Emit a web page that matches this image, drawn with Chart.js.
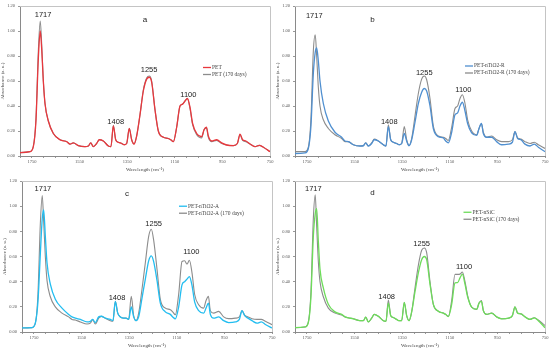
<!DOCTYPE html>
<html>
<head>
<meta charset="utf-8">
<script src="https://cdn.jsdelivr.net/npm/chart.js@4"></script>
<style>
    body { margin: 0; background: #fff; width: 550px; height: 349px; overflow: hidden; position: relative; }
    canvas { position: absolute; }
</style>
</head>
<body>
<canvas id="graficoA" width="275" height="175" style="left:0;top:0"></canvas>
<canvas id="graficoB" width="275" height="175" style="left:275px;top:0"></canvas>
<canvas id="graficoC" width="275" height="176" style="left:2px;top:175px"></canvas>
<canvas id="graficoD" width="275" height="176" style="left:275px;top:175px"></canvas>
<script>
'use strict';

// eixo x (cm-1), comum aos quatro graficos
const numeroOnda = [1800, 1758, 1744, 1733, 1723, 1715, 1709, 1702, 1695, 1681,
    1660, 1632, 1604, 1590, 1576, 1555, 1527, 1513, 1503, 1492,
    1478, 1467, 1450, 1429, 1418, 1408, 1398, 1387, 1373, 1363,
    1352, 1341, 1331, 1321, 1310, 1296, 1282, 1268, 1257, 1247,
    1233, 1219, 1198, 1177, 1167, 1156, 1142, 1128, 1117, 1107,
    1097, 1086, 1075, 1058, 1037, 1027, 1017, 1009, 995, 974,
    953, 932, 904, 887, 876, 865, 851, 834, 813, 795,
    778, 750];

const ticksX = [1750, 1550, 1350, 1150, 950, 750];

// a
const pet = [0.027, 0.035, 0.075, 0.28, 0.78, 1.00, 0.86, 0.60, 0.42, 0.28,
    0.18, 0.13, 0.115, 0.095, 0.105, 0.083, 0.075, 0.08, 0.105, 0.075,
    0.10, 0.13, 0.12, 0.08, 0.075, 0.24, 0.13, 0.11, 0.10, 0.09,
    0.10, 0.22, 0.13, 0.096, 0.16, 0.33, 0.52, 0.615, 0.63, 0.59,
    0.37, 0.20, 0.15, 0.14, 0.13, 0.115, 0.23, 0.40, 0.415, 0.44,
    0.46, 0.39, 0.26, 0.18, 0.155, 0.21, 0.23, 0.16, 0.12, 0.13,
    0.105, 0.088, 0.083, 0.10, 0.175, 0.13, 0.12, 0.096, 0.075, 0.085,
    0.07, 0.035];
const pet170 = [0.027, 0.035, 0.078, 0.30, 0.84, 1.08, 0.90, 0.60, 0.42, 0.28,
    0.18, 0.13, 0.115, 0.095, 0.105, 0.083, 0.075, 0.08, 0.105, 0.075,
    0.10, 0.13, 0.12, 0.08, 0.075, 0.245, 0.13, 0.11, 0.10, 0.09,
    0.10, 0.22, 0.13, 0.096, 0.16, 0.33, 0.53, 0.625, 0.64, 0.60,
    0.37, 0.20, 0.15, 0.14, 0.13, 0.115, 0.23, 0.40, 0.415, 0.44,
    0.46, 0.38, 0.25, 0.17, 0.145, 0.21, 0.225, 0.15, 0.115, 0.125,
    0.10, 0.088, 0.083, 0.10, 0.17, 0.125, 0.115, 0.096, 0.075, 0.085,
    0.07, 0.035];

// b
const petR = [0.02, 0.025, 0.06, 0.24, 0.66, 0.83, 0.865, 0.76, 0.60, 0.42,
    0.28, 0.19, 0.15, 0.12, 0.115, 0.09, 0.08, 0.082, 0.105, 0.08,
    0.10, 0.13, 0.12, 0.09, 0.08, 0.235, 0.13, 0.11, 0.10, 0.09,
    0.10, 0.18, 0.12, 0.083, 0.13, 0.27, 0.42, 0.51, 0.54, 0.52,
    0.40, 0.22, 0.155, 0.145, 0.12, 0.105, 0.19, 0.33, 0.345, 0.40,
    0.43, 0.36, 0.26, 0.185, 0.165, 0.22, 0.26, 0.18, 0.15, 0.15,
    0.115, 0.09, 0.095, 0.11, 0.195, 0.14, 0.13, 0.095, 0.08, 0.095,
    0.07, 0.035];
const petR170 = [0.035, 0.035, 0.07, 0.30, 0.84, 0.97, 0.80, 0.55, 0.40, 0.29,
    0.22, 0.17, 0.14, 0.115, 0.115, 0.09, 0.08, 0.083, 0.105, 0.08,
    0.105, 0.135, 0.12, 0.09, 0.08, 0.25, 0.13, 0.11, 0.10, 0.09,
    0.10, 0.235, 0.13, 0.083, 0.14, 0.32, 0.50, 0.615, 0.64, 0.61,
    0.46, 0.24, 0.16, 0.15, 0.14, 0.125, 0.23, 0.38, 0.40, 0.46,
    0.49, 0.42, 0.29, 0.20, 0.17, 0.22, 0.26, 0.19, 0.15, 0.16,
    0.13, 0.115, 0.115, 0.13, 0.195, 0.145, 0.135, 0.115, 0.10, 0.11,
    0.09, 0.06];

// c
const petA = [0.032, 0.035, 0.07, 0.24, 0.62, 0.90, 0.97, 0.76, 0.55, 0.38,
    0.26, 0.19, 0.14, 0.12, 0.11, 0.10, 0.08, 0.085, 0.10, 0.075,
    0.12, 0.125, 0.11, 0.10, 0.09, 0.243, 0.15, 0.12, 0.11, 0.11,
    0.10, 0.20, 0.12, 0.09, 0.12, 0.27, 0.42, 0.565, 0.605, 0.56,
    0.41, 0.23, 0.16, 0.14, 0.12, 0.105, 0.20, 0.375, 0.40, 0.42,
    0.44, 0.37, 0.24, 0.17, 0.15, 0.19, 0.23, 0.14, 0.11, 0.12,
    0.09, 0.075, 0.08, 0.10, 0.17, 0.13, 0.11, 0.09, 0.07, 0.08,
    0.06, 0.032];
const petA170 = [0.032, 0.035, 0.07, 0.30, 0.86, 1.084, 0.88, 0.60, 0.41, 0.28,
    0.20, 0.15, 0.12, 0.10, 0.095, 0.08, 0.063, 0.07, 0.098, 0.063,
    0.11, 0.124, 0.11, 0.09, 0.085, 0.243, 0.15, 0.12, 0.11, 0.11,
    0.10, 0.283, 0.13, 0.09, 0.15, 0.34, 0.55, 0.76, 0.817, 0.73,
    0.50, 0.26, 0.19, 0.177, 0.16, 0.137, 0.30, 0.56, 0.566, 0.54,
    0.57, 0.47, 0.30, 0.217, 0.19, 0.25, 0.283, 0.17, 0.15, 0.164,
    0.12, 0.106, 0.11, 0.12, 0.17, 0.135, 0.12, 0.106, 0.10, 0.10,
    0.085, 0.058];

// d
const petSiC = [0.034, 0.04, 0.075, 0.28, 0.76, 0.94, 0.98, 0.72, 0.50, 0.35,
    0.22, 0.16, 0.14, 0.12, 0.113, 0.105, 0.09, 0.09, 0.118, 0.08,
    0.11, 0.14, 0.125, 0.09, 0.085, 0.23, 0.13, 0.115, 0.10, 0.09,
    0.09, 0.235, 0.13, 0.09, 0.16, 0.32, 0.47, 0.575, 0.60, 0.575,
    0.38, 0.22, 0.165, 0.15, 0.14, 0.123, 0.22, 0.39, 0.393, 0.43,
    0.46, 0.38, 0.28, 0.197, 0.18, 0.23, 0.244, 0.17, 0.14, 0.15,
    0.12, 0.105, 0.11, 0.13, 0.20, 0.15, 0.144, 0.12, 0.10, 0.113,
    0.09, 0.034];
const petSiC170 = [0.034, 0.04, 0.08, 0.32, 0.90, 1.09, 0.84, 0.56, 0.40, 0.28,
    0.19, 0.15, 0.135, 0.12, 0.113, 0.105, 0.09, 0.09, 0.118, 0.08,
    0.11, 0.14, 0.125, 0.09, 0.085, 0.254, 0.13, 0.115, 0.10, 0.09,
    0.09, 0.235, 0.13, 0.09, 0.16, 0.35, 0.53, 0.65, 0.668, 0.63,
    0.40, 0.22, 0.165, 0.15, 0.14, 0.123, 0.25, 0.458, 0.458, 0.46,
    0.477, 0.40, 0.29, 0.197, 0.18, 0.23, 0.25, 0.17, 0.14, 0.15,
    0.12, 0.105, 0.11, 0.13, 0.20, 0.15, 0.144, 0.12, 0.10, 0.113,
    0.095, 0.052];

// rotulos dos picos: [texto, numero de onda, absorbancia]
const picosA = [['1717', 1703, 1.125], ['1408', 1398, 0.274], ['1255', 1258, 0.69], ['1100', 1093, 0.49]];
const picosB = [['1717', 1719, 1.12], ['1408', 1404, 0.27], ['1255', 1257, 0.665], ['1100', 1093, 0.527]];
const picosC = [['1717', 1712, 1.137], ['1408', 1401, 0.27], ['1255', 1247, 0.86], ['1100', 1089, 0.634]];
const picosD = [['1717', 1723, 1.14], ['1408', 1415, 0.275], ['1255', 1268, 0.70], ['1100', 1090, 0.516]];

const cinza = '#8c8c8c';
//========================================================================================

// letra do painel, rotulos dos picos e legenda desenhados sobre o grafico
const marcas = {
    id: 'marcas',
    beforeDatasetsDraw(chart) {
        const { ctx, chartArea: area } = chart;
        ctx.save();
        ctx.strokeStyle = '#c4c4c4';
        ctx.lineWidth = 1;
        ctx.beginPath();
        ctx.moveTo(area.left, area.top + 0.5);
        ctx.lineTo(area.right + 0.5, area.top + 0.5);
        ctx.lineTo(area.right + 0.5, area.bottom);
        ctx.stroke();
        ctx.restore();
    },
    afterDatasetsDraw(chart, args, opts) {
        const { ctx, chartArea: area, scales: { x, y } } = chart;
        ctx.save();
        ctx.fillStyle = '#222';
        ctx.textAlign = 'center';
        ctx.textBaseline = 'middle';
        ctx.font = '7.5px "Liberation Sans", sans-serif';
        opts.picos.forEach(([texto, wn, abs]) => {
            ctx.fillText(texto, x.getPixelForValue(wn), y.getPixelForValue(abs));
        });
        ctx.font = '8px "Liberation Sans", sans-serif';
        ctx.fillText(opts.letra, area.left + opts.letraX * area.width, area.top + opts.letraY * area.height);

        // legenda
        const lx = area.left + opts.legX * area.width;
        let ly = area.top + opts.legY * area.height;
        ctx.textAlign = 'left';
        ctx.font = '5.5px "Liberation Serif", serif';
        chart.data.datasets.forEach(ds => {
            ctx.strokeStyle = ds.borderColor;
            ctx.lineWidth = 1.3;
            ctx.beginPath();
            ctx.moveTo(lx - 9, ly);
            ctx.lineTo(lx - 1, ly);
            ctx.stroke();
            ctx.fillStyle = '#444';
            ctx.fillText(ds.label, lx, ly);
            ly += 7;
        });
        ctx.restore();
    }
};

function criarGrafico(id, rotulos, series, cor, picos, letra, posicoes) {
    return new Chart(document.getElementById(id), {
        type: 'line',
        data: {
            datasets: [{
                label: rotulos[0],
                data: numeroOnda.map((wn, i) => ({ x: wn, y: series[0][i] })),
                borderColor: cor,
                borderWidth: 1.3
            }, {
                label: rotulos[1],
                data: numeroOnda.map((wn, i) => ({ x: wn, y: series[1][i] })),
                borderColor: cinza,
                borderWidth: 1.1
            }]
        },
        options: {
            responsive: false,
            animation: false,
            elements: {
                point: { radius: 0 },
                line: { cubicInterpolationMode: 'monotone', fill: false }
            },
            layout: { padding: { top: 6, right: 5, left: 0, bottom: 0 } },
            plugins: {
                legend: { display: false },
                tooltip: { enabled: false },
                marcas: { picos: picos, letra: letra, ...posicoes }
            },
            scales: {
                x: {
                    type: 'linear',
                    reverse: true,
                    min: 750,
                    max: 1800,
                    afterBuildTicks: escala => {
                        const lista = [];
                        for (let v = 1800; v >= 750; v -= 50) lista.push({ value: v });
                        escala.ticks = lista;
                    },
                    afterFit: escala => { escala.height = 19; },
                    ticks: {
                        autoSkip: false,
                        maxRotation: 0,
                        padding: 1,
                        color: '#555',
                        font: { family: '"Liberation Serif", serif', size: 4.5 },
                        callback: v => ticksX.includes(v) ? String(v) : ''
                    },
                    grid: { drawOnChartArea: false, tickLength: 2, color: '#999' },
                    border: { color: '#8a8a8a' },
                    title: {
                        display: true,
                        text: 'Wavelength (cm⁻¹)',
                        color: '#444',
                        padding: { top: 0, bottom: 2 },
                        font: { family: '"Liberation Serif", serif', size: 5 }
                    }
                },
                y: {
                    min: 0,
                    max: 1.2,
                    afterFit: escala => { escala.width = 20; },
                    ticks: {
                        stepSize: 0.2,
                        padding: 3,
                        color: '#555',
                        font: { family: '"Liberation Serif", serif', size: 4.5 },
                        callback: v => v.toFixed(2)
                    },
                    grid: { drawOnChartArea: false, tickLength: 2, color: '#999' },
                    border: { color: '#8a8a8a' },
                    title: {
                        display: true,
                        text: 'Absorbance (a. u.)',
                        color: '#444',
                        padding: { top: 0, bottom: 0 },
                        font: { family: '"Liberation Serif", serif', size: 5 }
                    }
                }
            }
        },
        plugins: [marcas]
    });
}
//========================================================================================

criarGrafico('graficoA', ['PET', 'PET (170 days)'], [pet, pet170], '#e8383d', picosA, 'a',
    { letraX: 0.50, letraY: 0.09, legX: 0.768, legY: 0.41 });
criarGrafico('graficoB', ['PET-nTiO2-R', 'PET-nTiO2-R (170 days)'], [petR, petR170], '#4f8fd0', picosB, 'b',
    { letraX: 0.31, letraY: 0.095, legX: 0.716, legY: 0.40 });
criarGrafico('graficoC', ['PET-nTiO2-A', 'PET-nTiO2-A (170 days)'], [petA, petA170], '#22bdf0', picosC, 'c',
    { letraX: 0.42, letraY: 0.085, legX: 0.664, legY: 0.167 });
criarGrafico('graficoD', ['PET-nSiC', 'PET-nSiC (170 days)'], [petSiC, petSiC170], '#6ddc5a', picosD, 'd',
    { letraX: 0.31, letraY: 0.075, legX: 0.71, legY: 0.207 });
</script>
</body>
</html>
